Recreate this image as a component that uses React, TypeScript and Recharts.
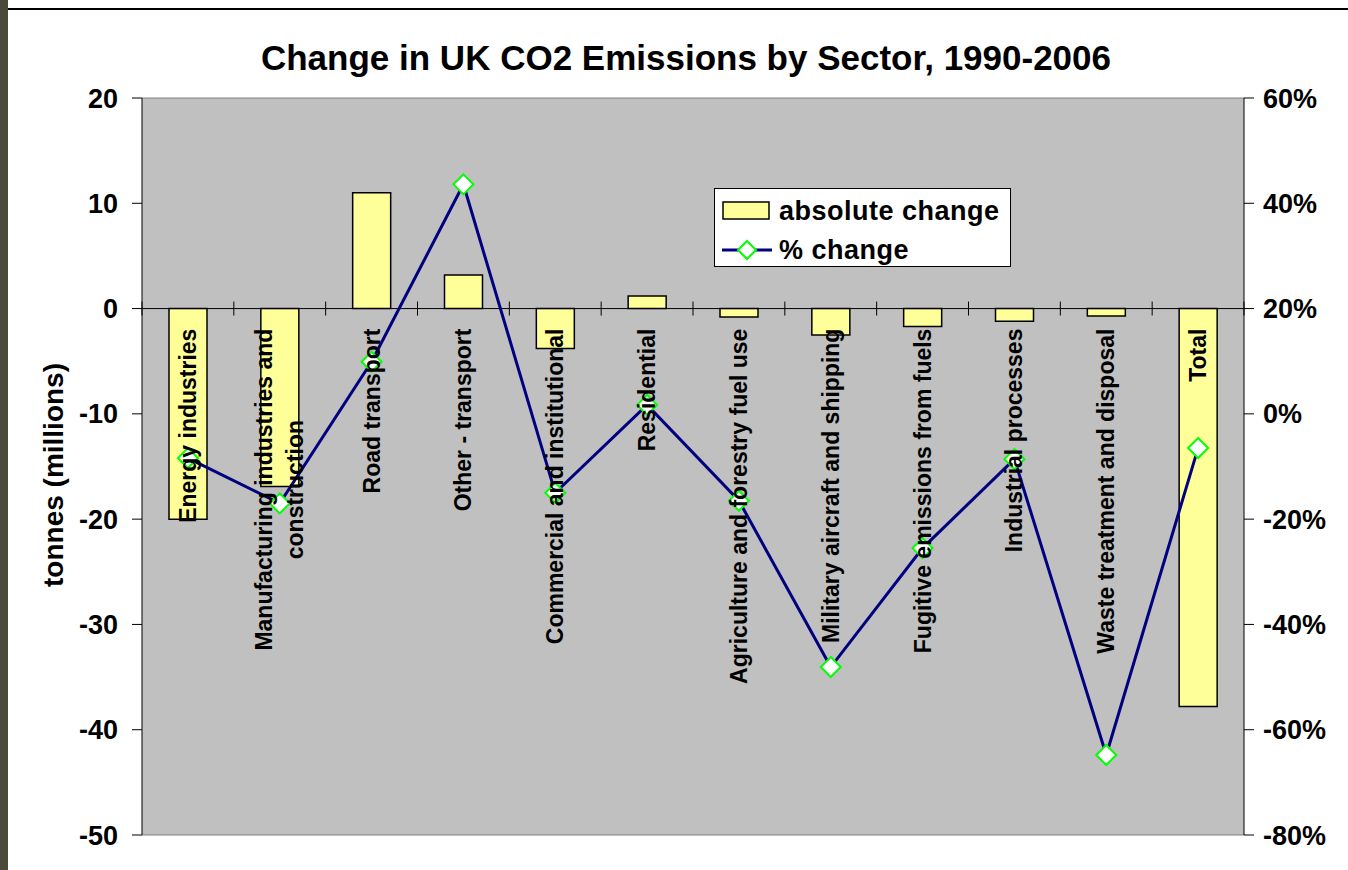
import React from 'react';
import { ComposedChart, Bar, Line, XAxis, YAxis, CartesianGrid, ReferenceLine } from 'recharts';

// sectors along the category axis
const categories = [
  'Energy industries',
  'Manufacturing industries and construction',
  'Road transport',
  'Other - transport',
  'Commercial and institutional',
  'Residential',
  'Agriculture and forestry fuel use',
  'Military aircraft and shipping',
  'Fugitive emissions from fuels',
  'Industrial processes',
  'Waste treatment and disposal',
  'Total',
];

// tonnes (millions), left axis
const absoluteChange = [-20.0, -16.9, 11.0, 3.2, -3.8, 1.2, -0.8, -2.5, -1.7, -1.2, -0.7, -37.8];

// percent, right axis
const percentChange = [-8.4, -17.0, 9.9, 43.6, -15.0, 1.7, -16.5, -48.1, -25.5, -8.6, -64.8, -6.5];

const leftTicks = [-50, -40, -30, -20, -10, 0, 10, 20];
const rightTicks = [-80, -60, -40, -20, 0, 20, 40, 60];

const FONT = '"Liberation Sans", Arial, Helvetica, sans-serif';
const W = 1348;
const H = 870;
const PLOT = { left: 142, right: 1244, top: 98, bottom: 835 };
const LEFT_DOMAIN: [number, number] = [-50, 20];
const RIGHT_DOMAIN: [number, number] = [-80, 60];
const LABEL_FONT = `bold 23px ${FONT}`;

const data = categories.map((name, i) => ({
  name,
  abs: absoluteChange[i],
  pct: percentChange[i],
}));

const zeroY =
  PLOT.top + (LEFT_DOMAIN[1] / (LEFT_DOMAIN[1] - LEFT_DOMAIN[0])) * (PLOT.bottom - PLOT.top);
const bandW = (PLOT.right - PLOT.left) / categories.length;

let ctx: CanvasRenderingContext2D | null = null;
const measure = (s: string) => {
  if (!ctx) ctx = document.createElement('canvas').getContext('2d');
  if (!ctx) return s.length * 12;
  ctx.font = LABEL_FONT;
  return ctx.measureText(s).width;
};

// wrap a label the way Excel does when it runs out of room
const wrap = (s: string, maxW = 400) => {
  const words = s.split(' ');
  const lines: string[] = [];
  let cur = '';
  words.forEach(w => {
    const next = cur ? cur + ' ' + w : w;
    if (cur && measure(next) > maxW) {
      lines.push(cur);
      cur = w;
    } else {
      cur = next;
    }
  });
  if (cur) lines.push(cur);
  return lines;
};

const CategoryTick = (props: any) => {
  const { x, payload, index } = props;
  const lines = wrap(String(payload.value));
  const maxW = Math.max(...lines.map(measure));
  // text reads bottom-to-top and ends just under the zero line
  const centerY = zeroY + 20 + maxW / 2;
  const gap = 31;
  const left = x - bandW / 2;
  return (
    <g>
      <line x1={left} x2={left} y1={zeroY - 7} y2={zeroY + 7} stroke="#000" />
      {index === categories.length - 1 && (
        <line x1={left + bandW} x2={left + bandW} y1={zeroY - 7} y2={zeroY + 7} stroke="#000" />
      )}
      {lines.map((l, i) => {
        const cx = x + (i - (lines.length - 1) / 2) * gap;
        return (
          <text
            key={i}
            x={cx}
            y={centerY}
            dy="0.35em"
            textAnchor="middle"
            transform={`rotate(-90, ${cx}, ${centerY})`}
            fontFamily={FONT}
            fontWeight="bold"
            fontSize={23}
            fill="#000"
          >
            {l}
          </text>
        );
      })}
    </g>
  );
};

const Diamond = (props: any) => {
  const { cx, cy, index } = props;
  if (cx == null || cy == null) return <g key={index} />;
  const r = 10;
  return (
    <polygon
      key={index}
      points={`${cx},${cy - r} ${cx + r},${cy} ${cx},${cy + r} ${cx - r},${cy}`}
      fill="#fff"
      stroke="#00FF00"
      strokeWidth={2}
    />
  );
};

const tickStyle = { fill: '#000', fontSize: 27, fontWeight: 700, fontFamily: FONT };

export default function App() {
  return (
    <div
      style={{
        position: 'absolute',
        left: 0,
        top: 0,
        width: W,
        height: H,
        background: '#fff',
        overflow: 'hidden',
        fontFamily: FONT,
      }}
    >
      <div style={{ position: 'absolute', left: 0, top: 0, width: 8, height: H, background: '#4a4a3a' }} />
      <div style={{ position: 'absolute', left: 8, top: 8, width: W - 8, height: 2, background: '#000' }} />

      <div style={{ position: 'absolute', left: 0, top: 0 }}>
        <ComposedChart
          width={W}
          height={H}
          data={data}
          margin={{ top: PLOT.top, right: W - PLOT.right - 90, bottom: H - PLOT.bottom - 1, left: PLOT.left - 100 }}
        >
          <CartesianGrid yAxisId="left" horizontal={false} vertical={false} fill="#C0C0C0" />
          <XAxis
            dataKey="name"
            height={1}
            axisLine={false}
            tickLine={false}
            interval={0}
            tick={CategoryTick}
          />
          <YAxis
            yAxisId="left"
            domain={LEFT_DOMAIN}
            ticks={leftTicks}
            width={100}
            tickSize={10}
            tickMargin={14}
            axisLine={{ stroke: '#000' }}
            tickLine={{ stroke: '#000' }}
            tick={tickStyle}
            allowDataOverflow
          />
          <YAxis
            yAxisId="right"
            orientation="right"
            domain={RIGHT_DOMAIN}
            ticks={rightTicks}
            width={90}
            tickSize={10}
            tickMargin={9}
            axisLine={{ stroke: '#000' }}
            tickLine={{ stroke: '#000' }}
            tick={{ ...tickStyle, textAnchor: 'start' }}
            tickFormatter={(v: number) => `${v}%`}
            allowDataOverflow
          />
          <ReferenceLine yAxisId="left" y={LEFT_DOMAIN[1]} stroke="#808080" />
          <ReferenceLine yAxisId="left" y={LEFT_DOMAIN[0]} stroke="#808080" />
          <Bar
            yAxisId="left"
            dataKey="abs"
            fill="#FFFF99"
            stroke="#000"
            strokeWidth={1.5}
            barSize={38}
            isAnimationActive={false}
          />
          <ReferenceLine yAxisId="left" y={0} stroke="#000" />
          <Line
            yAxisId="right"
            dataKey="pct"
            stroke="#000080"
            strokeWidth={3}
            dot={Diamond}
            activeDot={false}
            isAnimationActive={false}
          />
        </ComposedChart>
      </div>

      <div
        style={{
          position: 'absolute',
          left: 686,
          top: 41,
          transform: 'translateX(-50%)',
          whiteSpace: 'nowrap',
          fontSize: 35,
          lineHeight: '34px',
          fontWeight: 700,
        }}
      >
        Change in UK CO2 Emissions by Sector, 1990-2006
      </div>

      <div
        style={{
          position: 'absolute',
          left: 54,
          top: 475,
          transform: 'translate(-50%, -50%) rotate(-90deg)',
          whiteSpace: 'nowrap',
          fontSize: 28,
          lineHeight: '28px',
          fontWeight: 700,
        }}
      >
        tonnes (millions)
      </div>

      <svg
        width={297}
        height={79}
        style={{ position: 'absolute', left: 714, top: 188 }}
      >
        <rect x={0.5} y={0.5} width={296} height={78} fill="#fff" stroke="#000" />
        <rect x={9} y={14} width={46} height={17} fill="#FFFF99" stroke="#000" strokeWidth={1.5} />
        <text x={65} y={32} fontFamily={FONT} fontWeight="bold" fontSize={27} letterSpacing={0.5}>
          absolute change
        </text>
        <line x1={8} x2={58} y1={62} y2={62} stroke="#000080" strokeWidth={3} />
        <polygon points="33,53 42,62 33,71 24,62" fill="#fff" stroke="#00FF00" strokeWidth={2} />
        <text x={65} y={71} fontFamily={FONT} fontWeight="bold" fontSize={27} letterSpacing={0.5}>
          % change
        </text>
      </svg>
    </div>
  );
}
